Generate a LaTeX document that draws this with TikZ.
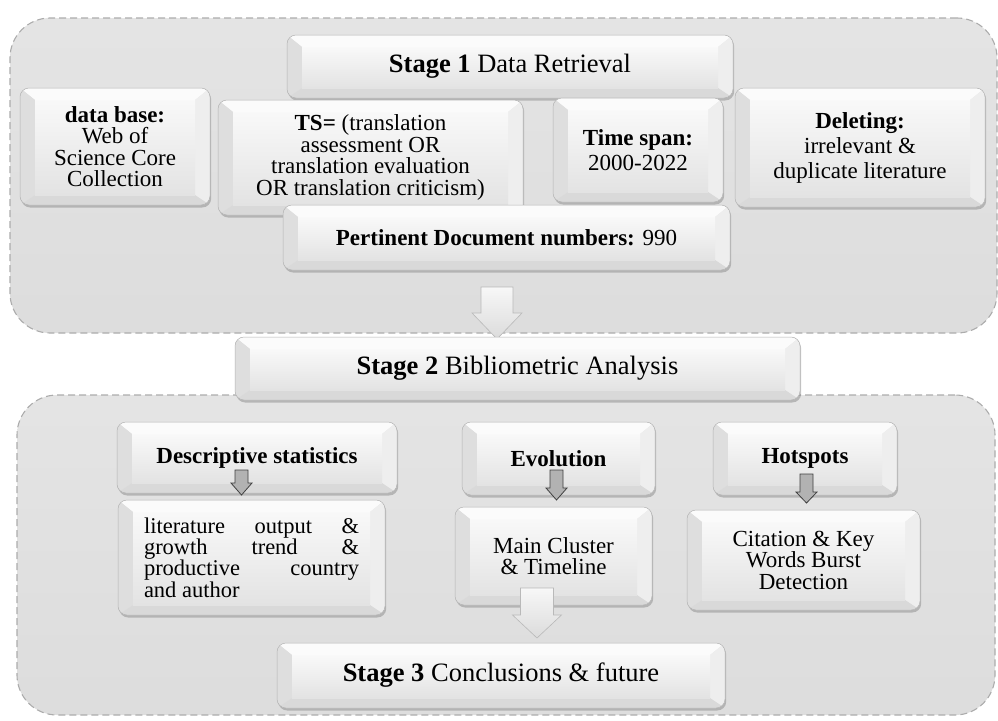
\documentclass[tikz,border=0pt]{standalone}
\usepackage{fontspec}
\setmainfont{Liberation Serif}
\usetikzlibrary{shadows,calc}
\newcommand\fsA{\fontsize{23}{21.5}\selectfont}
\newcommand\fsW{\fontsize{23}{25}\selectfont}
\newcommand\fsS{\fontsize{26.5}{30}\selectfont}
\newcommand\fsL{\fontsize{22.5}{17.6}\selectfont}
\newcommand\blockarrow[6]{%
  \path[#1] (#2) ++({-#4},0) -- ++(0,{#3-#6}) -- ++({-(#5-#4)},0) -- ++(#5,#6) -- ++(#5,{-#6}) -- ++({-(#5-#4)},0) -- ++(0,{-(#3-#6)}) -- cycle;}
\tikzset{
  cont/.style={draw=gray!65, dash pattern=on 7pt off 4pt, line width=1.1pt,
    rounded corners=40pt, top color=gray!21, bottom color=gray!27, inner sep=0pt},
  bevbox/.style={rounded corners=9pt, draw=gray!60, line width=0.5pt, fill=gray!20,
    drop shadow={opacity=0.45, shadow xshift=1.2pt, shadow yshift=-2.5pt},
    align=center, inner sep=3pt, font=\fsA, text=black,
    path picture={
      \path (path picture bounding box.north west) coordinate (pNW)
            (path picture bounding box.north east) coordinate (pNE)
            (path picture bounding box.south east) coordinate (pSE)
            (path picture bounding box.south west) coordinate (pSW);
      \coordinate (iNW) at ($(pNW)+(15pt,-12pt)$);
      \coordinate (iNE) at ($(pNE)+(-15pt,-12pt)$);
      \coordinate (iSE) at ($(pSE)+(-15pt,10pt)$);
      \coordinate (iSW) at ($(pSW)+(15pt,10pt)$);
      \fill[sharp corners, gray!3] (pNW) -- (pNE) -- (iNE) -- (iNW) -- cycle;
      \fill[sharp corners, gray!26] (pNW) -- (iNW) -- (iSW) -- (pSW) -- cycle;
      \fill[sharp corners, gray!13] (pNE) -- (iNE) -- (iSE) -- (pSE) -- cycle;
      \fill[sharp corners, gray!30] (pSW) -- (iSW) -- (iSE) -- (pSE) -- cycle;
      \shade[sharp corners, top color=gray!5, bottom color=gray!22] (iNW) rectangle (iSE);
    }},
  bigarrow/.style={draw=gray!55, line width=0.6pt, top color=gray!6, bottom color=gray!28},
  smallarrow/.style={draw=black!75, line width=0.8pt, fill=gray!60}
}
\begin{document}
\begin{tikzpicture}[x=1pt, y=-1pt]
\useasboundingbox (0,0) rectangle (998,720);
% containers
\node[cont, minimum width=987pt, minimum height=315pt] (topc) at (503.5,175.5) {};
\node[cont, minimum width=978pt, minimum height=320pt] (botc) at (506,555) {};
% stage 1 area
\node[bevbox, minimum width=446pt, minimum height=63pt, font=\fsS] (s1) at (510,66.5) {\textbf{Stage 1} Data Retrieval};
\node[bevbox, minimum width=190pt, minimum height=117pt] (db) at (115,146.5) {\textbf{data base:}\\Web of\\Science Core\\Collection};
\node[bevbox, minimum width=305pt, minimum height=115pt] (ts) at (370.5,157.5) {\textbf{TS=} (translation\\assessment OR\\translation evaluation\\OR translation criticism)};
\node[bevbox, minimum width=170pt, minimum height=104pt, font=\fsW] (time) at (638,150) {\textbf{Time span:}\\2000-2022};
\node[bevbox, minimum width=250pt, minimum height=119pt, font=\fsW] (del) at (860,147.5) {\textbf{Deleting:}\\irrelevant \&\\duplicate literature};
\node[bevbox, minimum width=447pt, minimum height=65pt] (pert) at (506.5,237.5) {\textbf{Pertinent Document numbers:} 990};
% arrow to stage 2
\coordinate (a1) at (497,287);
\blockarrow{bigarrow}{a1}{52}{16}{25}{26}
\node[bevbox, minimum width=565pt, minimum height=63pt, font=\fsS] (s2) at (517.5,368.5) {\textbf{Stage 2} Bibliometric Analysis};
% stage 2 content
\node[bevbox, minimum width=280pt, minimum height=71pt] (desc) at (257,457.5) {\textbf{Descriptive statistics}};
\node[bevbox, minimum width=267pt, minimum height=115pt, font=\fsL, align=left] (lit) at (251.5,557.5) {%
  \makebox[215pt][s]{literature output \&}\\
  \makebox[215pt][s]{growth trend \&}\\
  \makebox[215pt][s]{productive country}\\
  \makebox[215pt][l]{and author}};
\node[bevbox, minimum width=193pt, minimum height=73pt] (evo) at (558.5,458.5) {\textbf{Evolution}};
\node[bevbox, minimum width=197pt, minimum height=98pt] (main) at (553.5,556) {Main Cluster\\\& Timeline};
\node[bevbox, minimum width=184pt, minimum height=73pt] (hot) at (805,458.5) {\textbf{Hotspots}};
\node[bevbox, minimum width=233pt, minimum height=100pt] (cit) at (803.5,560) {Citation \& Key\\Words Burst\\Detection};
% small arrows
\coordinate (a2) at (241.5,470);
\blockarrow{smallarrow}{a2}{25}{6.5}{10.5}{12}
\coordinate (a3) at (556.5,470);
\blockarrow{smallarrow}{a3}{30}{6.5}{10.5}{12}
\coordinate (a4) at (806.5,474);
\blockarrow{smallarrow}{a4}{29}{6.5}{10.5}{11}
% arrow to stage 3
\coordinate (a5) at (537,588);
\blockarrow{bigarrow}{a5}{50}{16.5}{24.5}{23}
\node[bevbox, minimum width=448pt, minimum height=65pt, font=\fsS] (s3) at (501,675.5) {\textbf{Stage 3} Conclusions \& future};
\end{tikzpicture}
\end{document}
